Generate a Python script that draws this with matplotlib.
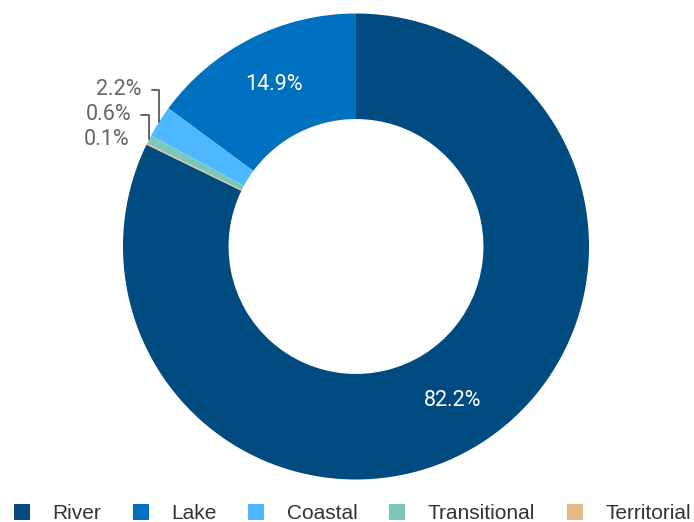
import numpy as np
import matplotlib
matplotlib.use("Agg")
import matplotlib.pyplot as plt
from matplotlib.lines import Line2D

# Share of water bodies by category (%)
categories = ["River", "Lake", "Coastal", "Transitional", "Territorial"]
shares = [82.2, 14.9, 2.2, 0.6, 0.1]
colors = ["#004b80", "#0070c0", "#4db8ff", "#7ac8bc", "#e6b98c"]

fig = plt.figure(figsize=(6.94, 5.22), dpi=100)

# square axes so that the donut has radius 1 in data units
W, H = 694, 522
cx, cy, r = 356, 246.5, 233
ax = fig.add_axes([(cx - r) / W, (H - cy - r) / H, 2 * r / W, 2 * r / H])

total = sum(shares)
start = 90 + 360 * (total - shares[0]) / total

wedges, _ = ax.pie(
    shares,
    colors=colors,
    startangle=start,
    counterclock=True,
    radius=1.0,
    wedgeprops={"width": 0.453, "linewidth": 0},
)
ax.set_xlim(-1, 1)
ax.set_ylim(-1, 1)
ax.set_aspect("equal")
ax.axis("off")

label_font = {"family": ["Roboto", "DejaVu Sans"], "size": 15.5}
outside_y = 0.672
for wedge, share in zip(wedges, shares):
    mid = np.deg2rad((wedge.theta1 + wedge.theta2) / 2)
    if share > 5:
        ax.text(
            0.78 * np.cos(mid), 0.78 * np.sin(mid), f"{share:.1f}%",
            ha="center", va="center", color="white", fontdict=label_font,
        )
        continue
    px, py = np.cos(mid), np.sin(mid)
    arrow = None
    if abs(outside_y - py) > 0.03:
        arrow = {
            "arrowstyle": "-",
            "connectionstyle": "angle,angleA=0,angleB=90,rad=0",
            "color": "#666666",
            "lw": 1.4,
            "shrinkA": 5,
            "shrinkB": 0,
        }
    ax.annotate(
        f"{share:.1f}%", xy=(px, py), xytext=(px - 0.075, outside_y),
        ha="right", va="center", color="#666666", **label_font,
        arrowprops=arrow, annotation_clip=False,
    )
    outside_y -= 0.107

handles = [
    Line2D([], [], linestyle="none", marker="s", markersize=11,
           markerfacecolor=c, markeredgewidth=0)
    for c in colors
]
fig.legend(
    handles, categories,
    loc="center left", bbox_to_anchor=(11.5 / W, 8.5 / H),
    ncol=5, frameon=False, borderpad=0, borderaxespad=0,
    handlelength=1.0, handletextpad=0.95, columnspacing=1.42,
    prop={"family": "Liberation Sans", "size": 15},
    labelcolor="#333333",
)

fig.savefig("out.png", dpi=100)
